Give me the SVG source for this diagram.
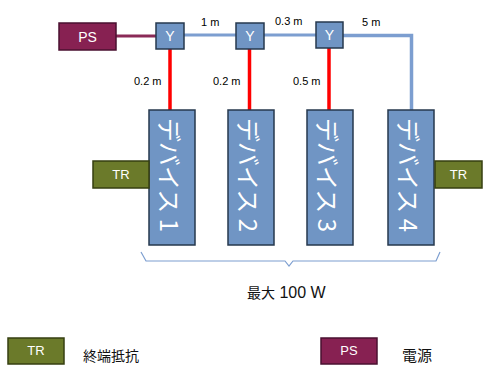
<svg xmlns="http://www.w3.org/2000/svg" width="483" height="365" viewBox="0 0 483 365">
<style>
.y{fill:#7095C4;stroke:#26384D;stroke-width:1.5}
.dev{fill:#7095C4;stroke:#26384D;stroke-width:1.5}
.ps{fill:#872152;stroke:#4A1030;stroke-width:1.5}
.tr{fill:#6B7A2A;stroke:#363F10;stroke-width:1.5}
.wt{fill:#FFFFFF;font-family:"Liberation Sans",Arial,sans-serif;text-anchor:middle}
.lbl{fill:#000;font-family:"Liberation Sans",Arial,sans-serif;font-size:11px}
.jp{fill:#111;font-family:"Liberation Sans","Noto Sans CJK JP",sans-serif}
.dt{fill:#FFFFFF;font-family:"Noto Sans CJK JP","Liberation Sans",sans-serif;font-size:24px}
</style>
<g id="connectors" fill="none">
<line x1="116" y1="36" x2="156" y2="36" stroke="#8A2A57" stroke-width="3"/>
<polyline points="184,35 236,35" stroke="#7C9ED0" stroke-width="3"/>
<polyline points="264,35 316,35" stroke="#7C9ED0" stroke-width="3"/>
<polyline points="343,35.5 411.5,35.5 411.5,110" stroke="#7C9ED0" stroke-width="3.5"/>
<line x1="170" y1="49" x2="170" y2="110" stroke="#FF0000" stroke-width="3.5"/>
<line x1="249.5" y1="49" x2="249.5" y2="110" stroke="#FF0000" stroke-width="3.5"/>
<line x1="329" y1="48" x2="329" y2="110" stroke="#FF0000" stroke-width="3.5"/>
<path d="M141,252 L146,261 L285,261 L289,266 L293,261 L436,261 L440,252" stroke="#7C9ED0" stroke-width="1.2"/>
</g>
<g id="ps"><rect class="ps" x="59" y="23" width="57" height="27"/><text class="wt" x="87.5" y="41.5" font-size="14">PS</text></g>
<g id="y1"><rect class="y" x="156" y="23" width="28" height="26"/><text class="wt" x="170" y="41" font-size="14">Y</text></g>
<g id="y2"><rect class="y" x="236" y="23" width="28" height="26"/><text class="wt" x="250" y="41" font-size="14">Y</text></g>
<g id="y3"><rect class="y" x="316" y="22" width="27" height="26"/><text class="wt" x="329.5" y="40" font-size="14">Y</text></g>
<g id="labels">
<text class="lbl" x="201" y="26">1 m</text>
<text class="lbl" x="275" y="25">0.3 m</text>
<text class="lbl" x="362" y="26">5 m</text>
<text class="lbl" x="134" y="85">0.2 m</text>
<text class="lbl" x="213" y="85">0.2 m</text>
<text class="lbl" x="293" y="85">0.5 m</text>
</g>
<g id="dev1"><rect class="dev" x="149" y="110" width="46" height="135"/><text class="dt" transform="translate(170,118) rotate(90)" dominant-baseline="central">デバイス 1</text></g>
<g id="dev2"><rect class="dev" x="228" y="110" width="46" height="135"/><text class="dt" transform="translate(249,118) rotate(90)" dominant-baseline="central">デバイス 2</text></g>
<g id="dev3"><rect class="dev" x="307" y="110" width="46" height="135"/><text class="dt" transform="translate(328,118) rotate(90)" dominant-baseline="central">デバイス 3</text></g>
<g id="dev4"><rect class="dev" x="388" y="110" width="46" height="135"/><text class="dt" transform="translate(409,118) rotate(90)" dominant-baseline="central">デバイス 4</text></g>
<g id="tr1"><rect class="tr" x="93" y="161" width="56" height="27"/><text class="wt" x="121" y="179" font-size="13" fill="#EEEEDD">TR</text></g>
<g id="tr2"><rect class="tr" x="435" y="161" width="47" height="27"/><text class="wt" x="458.5" y="179" font-size="13">TR</text></g>
<text class="jp" x="247" y="298" font-size="14">最大<tspan font-size="16"> 100 W</tspan></text>
<g id="legend-tr"><rect class="tr" x="8" y="338" width="56" height="26"/><text class="wt" x="36" y="355" font-size="13">TR</text><text class="jp" x="83" y="361" font-size="14">終端抵抗</text></g>
<g id="legend-ps"><rect class="ps" x="321" y="338" width="56" height="26"/><text class="wt" x="349" y="355" font-size="13">PS</text><text class="jp" x="402" y="361" font-size="15">電源</text></g>
</svg>
